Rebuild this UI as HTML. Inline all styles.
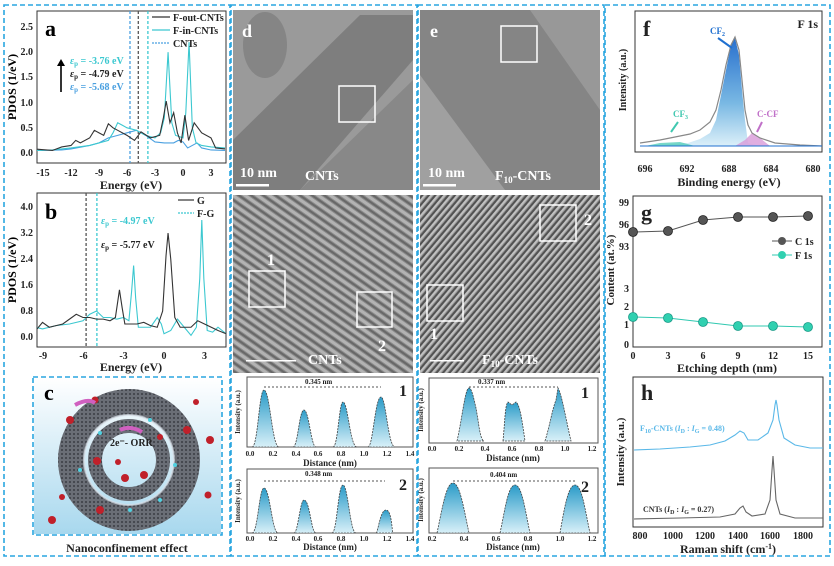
<!DOCTYPE html>
<html><head><meta charset="utf-8"><style>
html,body{margin:0;padding:0;background:#fff}
svg{display:block;font-family:"Liberation Serif",serif;font-weight:bold}
.t{font-size:10px;fill:#222}
.ln{fill:none;vector-effect:non-scaling-stroke;stroke-width:1.1}
</style></head><body>
<svg width="834" height="566" viewBox="0 0 834 566" xmlns="http://www.w3.org/2000/svg">
<defs>
<linearGradient id="pk" x1="0" y1="0" x2="0" y2="1"><stop offset="0" stop-color="#2a9bc8"/><stop offset="1" stop-color="#d8f0f8"/></linearGradient>
<linearGradient id="fpk" x1="0" y1="0" x2="0" y2="1"><stop offset="0" stop-color="#1060c8"/><stop offset="0.6" stop-color="#6ab0e0"/><stop offset="1" stop-color="#d8eef8"/></linearGradient>
<linearGradient id="cbg" x1="0" y1="0" x2="0" y2="1"><stop offset="0" stop-color="#ffffff"/><stop offset="1" stop-color="#a8d8ee"/></linearGradient>
<pattern id="hd" width="7" height="7" patternUnits="userSpaceOnUse" patternTransform="rotate(-55)"><rect width="7" height="7" fill="#8a8a8a"/><rect width="3" height="7" fill="#c8c8c8"/><rect x="4" width="2" height="7" fill="#555"/></pattern>
<pattern id="he" width="5" height="5" patternUnits="userSpaceOnUse" patternTransform="rotate(40)"><rect width="5" height="5" fill="#9a9a9a"/><rect width="2" height="5" fill="#d8d8d8"/><rect x="3" width="2" height="5" fill="#3a3a3a"/></pattern>
<pattern id="ring" width="4" height="4" patternUnits="userSpaceOnUse"><rect width="4" height="4" fill="#6a6e76"/><circle cx="2" cy="2" r="1" fill="#3a3d43"/></pattern>
</defs>

<g fill="none" stroke="#2aa6e0" stroke-width="1.6" stroke-dasharray="5,3">
<rect x="4" y="5" width="226" height="551"/>
<rect x="231" y="5" width="186" height="551"/>
<rect x="418" y="5" width="186" height="551"/>
<rect x="605" y="5" width="225" height="551"/>
<rect x="33" y="377" width="189" height="158"/>
</g>

<!-- ===== Panel a ===== -->
<rect x="37" y="11" width="189" height="152" fill="none" stroke="#333"/>
<g class="t" text-anchor="end">
<text x="33" y="156">0.0</text><text x="33" y="131">0.5</text><text x="33" y="106">1.0</text><text x="33" y="80">1.5</text><text x="33" y="55">2.0</text><text x="33" y="30">2.5</text>
</g>
<g class="t" text-anchor="middle">
<text x="43" y="176">-15</text><text x="71" y="176">-12</text><text x="99" y="176">-9</text><text x="127" y="176">-6</text><text x="155" y="176">-3</text><text x="183" y="176">0</text><text x="211" y="176">3</text>
<text x="131" y="189" style="font-size:12px">Energy (eV)</text>
</g>
<text transform="translate(16,87) rotate(-90)" text-anchor="middle" style="font-size:12px">PDOS (1/eV)</text>
<text x="45" y="36" style="font-size:22px">a</text>
<svg x="37" y="11" width="189" height="152" viewBox="37 11 189 152" overflow="hidden">
<g stroke-dasharray="3,2" stroke-width="1.3"><line x1="130" y1="11" x2="130" y2="163" stroke="#4aa0e0"/><line x1="138.3" y1="11" x2="138.3" y2="163" stroke="#555"/><line x1="147.9" y1="11" x2="147.9" y2="163" stroke="#3cc8d0"/></g>
<g transform="translate(183,153) scale(9.33,-50.4)">
<polyline class="ln" stroke="#4aa0e0" points="-16,0.05 -13,0.06 -12,0.08 -10,0.15 -9,0.2 -8,0.3 -7,0.35 -6,0.4 -5,0.45 -4,0.35 -3,0.22 -2,0.2 -1,0.2 -0.5,0.25 0,0.22 0.5,0.1 1,0.15 1.5,0.2 2,0.1 3,0.06 4.5,0.05"/>
<polyline class="ln" stroke="#3cc8d0" points="-16,0.05 -14,0.06 -12,0.1 -10,0.15 -9,0.2 -8,0.25 -7.5,0.4 -7,0.6 -6.5,0.55 -6,0.5 -5,0.45 -4,0.35 -3,0.3 -2.4,0.4 -2,0.7 -1.6,2.0 -1.2,0.6 -0.8,0.35 0,0.3 0.3,0.8 0.65,2.2 1,0.5 1.4,0.2 2,0.15 3,0.12 4.5,0.1"/>
<polyline class="ln" stroke="#333" points="-16,0.08 -14,0.05 -13,0.12 -12,0.15 -11.5,0.25 -11,0.2 -10,0.3 -9.5,0.45 -9,0.4 -8.5,0.35 -8,0.58 -7.5,0.5 -7,0.45 -6,0.35 -5.2,0.25 -4.5,0.42 -3.5,0.3 -2.5,0.35 -2.1,0.7 -1.8,1.03 -1.4,0.6 -1,0.8 -0.6,0.4 -0.2,0.2 0.2,0.75 0.6,0.25 1.2,0.6 2,0.4 3,0.3 3.5,0.1 4.5,0.08"/>
</g>
</svg>
<g style="font-size:10px">
<line x1="152" y1="17" x2="170" y2="17" stroke="#333" stroke-width="1.2"/><text x="173" y="21" class="t">F-out-CNTs</text>
<line x1="152" y1="30" x2="170" y2="30" stroke="#3cc8d0" stroke-width="1.2"/><text x="173" y="34" class="t">F-in-CNTs</text>
<line x1="152" y1="43" x2="170" y2="43" stroke="#4aa0e0" stroke-width="1.2" stroke-dasharray="2,1"/><text x="173" y="47" class="t">CNTs</text>
</g>
<line x1="61" y1="92" x2="61" y2="66" stroke="#000" stroke-width="1.6"/><polygon points="57,66 65,66 61,59" fill="#000"/>
<g style="font-size:10px">
<text x="70" y="64" fill="#3cc8d0"><tspan font-style="italic">ε</tspan><tspan font-size="7" dy="2">p</tspan><tspan dy="-2"> = -3.76 eV</tspan></text>
<text x="70" y="77" fill="#222"><tspan font-style="italic">ε</tspan><tspan font-size="7" dy="2">p</tspan><tspan dy="-2"> = -4.79 eV</tspan></text>
<text x="70" y="90" fill="#4aa0e0"><tspan font-style="italic">ε</tspan><tspan font-size="7" dy="2">p</tspan><tspan dy="-2"> = -5.68 eV</tspan></text>
</g>

<!-- ===== Panel b ===== -->
<rect x="37" y="193" width="189" height="154" fill="none" stroke="#333"/>
<g class="t" text-anchor="end">
<text x="33" y="340">0.0</text><text x="33" y="314">0.8</text><text x="33" y="288">1.6</text><text x="33" y="262">2.4</text><text x="33" y="236">3.2</text><text x="33" y="210">4.0</text>
</g>
<g class="t" text-anchor="middle">
<text x="43" y="359">-9</text><text x="83.5" y="359">-6</text><text x="123.5" y="359">-3</text><text x="164" y="359">0</text><text x="204.5" y="359">3</text>
<text x="131" y="371" style="font-size:12px">Energy (eV)</text>
</g>
<text transform="translate(16,270) rotate(-90)" text-anchor="middle" style="font-size:12px">PDOS (1/eV)</text>
<text x="45" y="219" style="font-size:22px">b</text>
<svg x="37" y="193" width="189" height="154" viewBox="37 193 189 154" overflow="hidden">
<g stroke-dasharray="3,2" stroke-width="1.3"><line x1="86.1" y1="193" x2="86.1" y2="347" stroke="#555"/><line x1="96.9" y1="193" x2="96.9" y2="347" stroke="#3cc8d0"/></g>
<g transform="translate(164,337) scale(13.5,-32.5)">
<polyline class="ln" stroke="#3cc8d0" points="-9.5,0.3 -9,0.25 -8,0.35 -7,0.4 -6,0.5 -5.5,0.7 -5,0.8 -4.5,0.6 -4,0.6 -3.5,0.55 -3,0.6 -2.6,0.5 -2.4,1.4 -2.25,2.2 -2.1,1.2 -1.9,0.3 -1.5,0.3 -1,0.3 -0.5,0.6 -0.2,0.4 0,0.1 0.5,0.2 1,0.55 1.5,0.3 2,0.05 2.4,0.3 2.65,1.8 2.8,3.6 2.95,1.8 3.2,0.2 3.6,0.15 4,0.3 4.6,0.1"/>
<polyline class="ln" stroke="#333" points="-9.5,0.2 -9,0.45 -8.5,0.3 -8,0.35 -7.5,0.4 -7,0.55 -6.5,0.7 -6,0.6 -5.5,0.6 -5,0.55 -4.5,0.55 -4,0.5 -3.6,0.6 -3.3,1.45 -3.1,0.9 -2.9,0.4 -2,0.4 -1.5,0.45 -1,0.35 -0.5,0.3 -0.1,0.8 0.15,2.5 0.3,3.2 0.5,2.4 0.8,0.6 1.2,0.3 2,0.3 2.5,0.5 3,0.4 3.5,0.3 4,0.2 4.6,0.1"/>
</g>
</svg>
<line x1="178" y1="200" x2="194" y2="200" stroke="#333" stroke-width="1.2"/><text x="197" y="204" class="t">G</text>
<line x1="178" y1="213" x2="194" y2="213" stroke="#3cc8d0" stroke-width="1.2" stroke-dasharray="2,1"/><text x="197" y="217" class="t">F-G</text>
<g style="font-size:10px">
<text x="101" y="224" fill="#3cc8d0"><tspan font-style="italic">ε</tspan><tspan font-size="7" dy="2">p</tspan><tspan dy="-2"> = -4.97 eV</tspan></text>
<text x="101" y="248" fill="#222"><tspan font-style="italic">ε</tspan><tspan font-size="7" dy="2">p</tspan><tspan dy="-2"> = -5.77 eV</tspan></text>
</g>

<!-- ===== Panel c ===== -->
<rect x="34" y="378" width="187" height="156" fill="url(#cbg)"/>
<circle cx="129" cy="460" r="58" fill="none" stroke="url(#ring)" stroke-width="26"/>
<circle cx="129" cy="460" r="34" fill="none" stroke="url(#ring)" stroke-width="14"/>
<circle cx="129" cy="460" r="45" fill="none" stroke="#d8e0e8" stroke-width="2" opacity="0.7"/>
<g fill="#c0202a">
<circle cx="70" cy="420" r="4"/><circle cx="95" cy="400" r="3.5"/><circle cx="187" cy="430" r="4"/><circle cx="210" cy="440" r="4"/><circle cx="208" cy="495" r="3.5"/><circle cx="52" cy="520" r="4"/><circle cx="100" cy="510" r="4"/><circle cx="125" cy="478" r="4"/><circle cx="144" cy="475" r="4"/><circle cx="97" cy="461" r="4"/><circle cx="118" cy="462" r="3"/><circle cx="196" cy="402" r="3"/><circle cx="62" cy="497" r="3"/><circle cx="160" cy="437" r="3"/>
</g>
<g fill="#4fd0e0"><circle cx="100" cy="433" r="2"/><circle cx="160" cy="500" r="2"/><circle cx="80" cy="470" r="2"/><circle cx="175" cy="465" r="2"/><circle cx="130" cy="510" r="2"/><circle cx="150" cy="420" r="2"/></g>
<path d="M75 405 Q88 398 95 403" stroke="#d060c0" stroke-width="4" fill="none"/>
<path d="M120 430 Q130 425 142 432" stroke="#d060c0" stroke-width="4" fill="none"/>
<text x="110" y="446" style="font-size:10px" fill="#222">2e⁻- ORR</text>
<text x="44" y="400" style="font-size:22px">c</text>
<text x="127" y="552" text-anchor="middle" style="font-size:12px" fill="#222">Nanoconfinement effect</text>

<!-- ===== Panel d images ===== -->
<rect x="233" y="10" width="180" height="180" fill="#9a9a9a"/>
<polygon points="233,180 233,140 360,15 413,15 413,60 300,190 233,190" fill="#7e7e7e"/>
<polygon points="300,190 413,80 413,190" fill="#888"/>
<ellipse cx="265" cy="45" rx="22" ry="33" fill="#858585"/>
<rect x="339" y="86" width="36" height="36" fill="none" stroke="#fff" stroke-width="1.5"/>
<text x="242" y="37" style="font-size:18px" fill="#fff">d</text>
<text x="240" y="177" style="font-size:14px" fill="#fff">10 nm</text>
<rect x="236" y="184" width="33" height="2.5" fill="#fff"/>
<text x="305" y="180" style="font-size:14px" fill="#fff">CNTs</text>

<rect x="233" y="195" width="180" height="178" fill="url(#hd)"/>
<rect x="233" y="195" width="180" height="178" fill="#8c8c8c" opacity="0.35"/>
<rect x="249" y="271" width="36" height="36" fill="none" stroke="#fff" stroke-width="1.5"/>
<rect x="357" y="292" width="35" height="35" fill="none" stroke="#fff" stroke-width="1.5"/>
<text x="267" y="265" style="font-size:16px" fill="#fff">1</text>
<text x="378" y="351" style="font-size:16px" fill="#fff">2</text>
<rect x="246" y="360" width="50" height="1.5" fill="#fff"/>
<text x="308" y="364" style="font-size:14px" fill="#fff">CNTs</text>

<g>
<rect x="247" y="377" width="166" height="70" fill="none" stroke="#555"/>
<g fill="url(#pk)" stroke="#444" stroke-dasharray="2,1" stroke-width="0.8">
<path d="M252 447 C258 447 259 390 264 390 C270 390 272 447 279 447Z"/>
<path d="M293 447 C298 447 299 410 304 410 C309 410 311 447 316 447Z"/>
<path d="M333 447 C338 447 339 402 343 402 C348 402 350 447 357 447Z"/>
<path d="M368 447 C373 447 375 397 381 397 C386 397 388 447 395 447Z"/>
</g>
<line x1="264" y1="387" x2="381" y2="387" stroke="#555" stroke-dasharray="2,2"/>
<text x="305" y="384" style="font-size:7px" fill="#222">0.345 nm</text>
<text x="403" y="396" style="font-size:16px" fill="#222" text-anchor="middle">1</text>
<text transform="translate(240,412) rotate(-90)" text-anchor="middle" style="font-size:7px" fill="#222">Intensity (a.u.)</text>
<g style="font-size:7px" fill="#222" text-anchor="middle"><text x="250" y="456">0.0</text><text x="273" y="456">0.2</text><text x="296" y="456">0.4</text><text x="318" y="456">0.6</text><text x="341" y="456">0.8</text><text x="364" y="456">1.0</text><text x="387" y="456">1.2</text><text x="410" y="456">1.4</text></g>
<text x="330" y="466" text-anchor="middle" style="font-size:9px" fill="#222">Distance (nm)</text>

<rect x="247" y="469" width="166" height="64" fill="none" stroke="#555"/>
<g fill="url(#pk)" stroke="#444" stroke-dasharray="2,1" stroke-width="0.8">
<path d="M252 533 C258 533 259 488 264 488 C270 488 272 533 278 533Z"/>
<path d="M294 533 C298 533 300 500 304 500 C310 500 311 533 316 533Z"/>
<path d="M332 533 C337 533 338 485 343 485 C348 485 350 533 356 533Z"/>
<path d="M376 533 C378 533 380 510 386 510 C392 510 392 533 393 533Z"/>
</g>
<line x1="264" y1="481" x2="385" y2="481" stroke="#555" stroke-dasharray="2,2"/>
<text x="305" y="476" style="font-size:7px" fill="#222">0.348 nm</text>
<text x="403" y="490" style="font-size:16px" fill="#222" text-anchor="middle">2</text>
<text transform="translate(240,501) rotate(-90)" text-anchor="middle" style="font-size:7px" fill="#222">Intensity (a.u.)</text>
<g style="font-size:7px" fill="#222" text-anchor="middle"><text x="250" y="541">0.0</text><text x="273" y="541">0.2</text><text x="296" y="541">0.4</text><text x="318" y="541">0.6</text><text x="341" y="541">0.8</text><text x="364" y="541">1.0</text><text x="387" y="541">1.2</text><text x="410" y="541">1.4</text></g>
<text x="330" y="550" text-anchor="middle" style="font-size:9px" fill="#222">Distance (nm)</text>
</g>

<!-- ===== Panel e images ===== -->
<rect x="420" y="10" width="180" height="180" fill="#858585"/>
<polygon points="420,75 420,190 505,190" fill="#a0a0a0"/>
<polygon points="530,10 600,10 600,110" fill="#989898"/>
<rect x="501" y="26" width="36" height="36" fill="none" stroke="#fff" stroke-width="1.5"/>
<text x="430" y="37" style="font-size:18px" fill="#fff">e</text>
<text x="428" y="177" style="font-size:14px" fill="#fff">10 nm</text>
<rect x="423" y="184" width="33" height="2.5" fill="#fff"/>
<text x="495" y="180" style="font-size:14px" fill="#fff">F<tspan font-size="9" dy="3">10</tspan><tspan dy="-3">-CNTs</tspan></text>

<rect x="420" y="195" width="180" height="178" fill="url(#he)"/>
<rect x="420" y="195" width="180" height="178" fill="#8c8c8c" opacity="0.3"/>
<rect x="540" y="205" width="36" height="36" fill="none" stroke="#fff" stroke-width="1.5"/>
<rect x="427" y="285" width="36" height="36" fill="none" stroke="#fff" stroke-width="1.5"/>
<text x="584" y="225" style="font-size:16px" fill="#fff">2</text>
<text x="430" y="339" style="font-size:16px" fill="#fff">1</text>
<rect x="430" y="360" width="34" height="1.5" fill="#fff"/>
<text x="482" y="364" style="font-size:14px" fill="#fff">F<tspan font-size="9" dy="3">10</tspan><tspan dy="-3">-CNTs</tspan></text>

<rect x="429" y="378" width="169" height="65" fill="none" stroke="#555"/>
<g fill="url(#pk)" stroke="#444" stroke-dasharray="2,1" stroke-width="0.8">
<path d="M457 441 C462 420 465 388 469 388 C472 388 474 400 476 408 L478 420 C480 435 482 441 484 441Z"/>
<path d="M503 441 C505 420 505 405 508 402 L512 405 L516 402 C520 405 522 420 525 441Z"/>
<path d="M545 441 C550 425 552 410 556 400 L558 388 C562 395 566 420 571 441Z"/>
</g>
<line x1="469" y1="387" x2="558" y2="387" stroke="#555" stroke-dasharray="2,2"/>
<text x="478" y="384" style="font-size:7px" fill="#222">0.337 nm</text>
<text x="585" y="398" style="font-size:16px" fill="#222" text-anchor="middle">1</text>
<text transform="translate(423,410) rotate(-90)" text-anchor="middle" style="font-size:7px" fill="#222">Intensity (a.u.)</text>
<g style="font-size:7px" fill="#222" text-anchor="middle"><text x="432" y="451">0.0</text><text x="459" y="451">0.2</text><text x="485" y="451">0.4</text><text x="512" y="451">0.6</text><text x="539" y="451">0.8</text><text x="565" y="451">1.0</text><text x="592" y="451">1.2</text></g>
<text x="513" y="461" text-anchor="middle" style="font-size:9px" fill="#222">Distance (nm)</text>

<rect x="429" y="468" width="169" height="65" fill="none" stroke="#555"/>
<g fill="url(#pk)" stroke="#444" stroke-dasharray="2,1" stroke-width="0.8">
<path d="M437 533 C442 510 446 483 453 483 C460 483 464 510 469 533Z"/>
<path d="M500 533 C505 510 508 485 515 485 C522 485 525 510 530 533Z"/>
<path d="M560 533 C564 510 568 485 575 485 C582 485 585 510 590 533Z"/>
</g>
<line x1="453" y1="481" x2="575" y2="481" stroke="#555" stroke-dasharray="2,2"/>
<text x="490" y="477" style="font-size:7px" fill="#222">0.404 nm</text>
<text x="585" y="492" style="font-size:16px" fill="#222" text-anchor="middle">2</text>
<text transform="translate(423,500) rotate(-90)" text-anchor="middle" style="font-size:7px" fill="#222">Intensity (a.u.)</text>
<g style="font-size:7px" fill="#222" text-anchor="middle"><text x="432" y="541">0.2</text><text x="464" y="541">0.4</text><text x="496" y="541">0.6</text><text x="528" y="541">0.8</text><text x="560" y="541">1.0</text><text x="592" y="541">1.2</text></g>
<text x="513" y="550" text-anchor="middle" style="font-size:9px" fill="#222">Distance (nm)</text>

<!-- ===== Panel f ===== -->
<rect x="635" y="11" width="187" height="141" fill="none" stroke="#333"/>
<svg x="635" y="11" width="187" height="141" viewBox="635 11 187 141" overflow="hidden">
<path d="M640 146 L688 143 L700 139 L710 133 L716 120 L721 95 L726 70 L731 45 L735 38 L739 55 L742 90 L745 120 L748 143 L760 146Z" fill="url(#fpk)" opacity="0.9"/>
<path d="M735 146 L745 140 L752 133 L760 138 L770 146Z" fill="#d89ad8" opacity="0.8"/>
<path d="M645 146 L660 143 L680 142 L695 146Z" fill="#40c8b0" opacity="0.7"/>
<polyline fill="none" stroke="#888" stroke-width="1.2" points="640,143 660,140 675,137 690,134 700,130 710,122 716,110 721,90 726,65 731,45 735,37 739,50 742,80 745,110 748,125 752,133 760,138 775,143 800,145 822,146"/>
<line x1="640" y1="146" x2="822" y2="146" stroke="#2070d0" stroke-width="1"/>
</svg>
<g class="t" text-anchor="middle">
<text x="645" y="172">696</text><text x="687" y="172">692</text><text x="729" y="172">688</text><text x="771" y="172">684</text><text x="813" y="172">680</text>
<text x="729" y="186" style="font-size:12px">Binding energy (eV)</text>
</g>
<text transform="translate(626,80) rotate(-90)" text-anchor="middle" style="font-size:10px" fill="#222">Intensity (a.u.)</text>
<text x="643" y="36" style="font-size:22px" fill="#222">f</text>
<text x="818" y="28" text-anchor="end" style="font-size:12px" fill="#222">F 1s</text>
<text x="710" y="34" style="font-size:9px" fill="#2070d0">CF<tspan font-size="6" dy="2">2</tspan></text>
<path d="M718 38 L732 48" stroke="#2070d0" stroke-width="2"/>
<text x="673" y="117" style="font-size:9px" fill="#40c8b0">CF<tspan font-size="6" dy="2">3</tspan></text>
<path d="M678 122 L671 132" stroke="#40c8b0" stroke-width="2"/>
<text x="757" y="117" style="font-size:9px" fill="#c070c8">C-CF</text>
<path d="M762 122 L757 132" stroke="#c070c8" stroke-width="2"/>

<!-- ===== Panel g ===== -->
<rect x="633" y="196" width="189" height="151" fill="none" stroke="#333"/>
<g class="t" text-anchor="end"><text x="629" y="206">99</text><text x="629" y="228">96</text><text x="629" y="250">93</text><text x="629" y="292">3</text><text x="629" y="310">2</text><text x="629" y="328">1</text><text x="629" y="348">0</text></g>
<g class="t" text-anchor="middle"><text x="633" y="359">0</text><text x="668" y="359">3</text><text x="703" y="359">6</text><text x="738" y="359">9</text><text x="773" y="359">12</text><text x="808" y="359">15</text>
<text x="727" y="372" style="font-size:12px">Etching depth (nm)</text></g>
<text transform="translate(614,270) rotate(-90)" text-anchor="middle" style="font-size:11px" fill="#222">Content (at.%)</text>
<text x="641" y="220" style="font-size:22px" fill="#222">g</text>
<polyline fill="none" stroke="#555" stroke-width="1" points="633,232 668,231 703,220 738,217 773,217 808,216"/>
<g fill="#555" stroke="#222" stroke-width="0.8"><circle cx="633" cy="232" r="4.5"/><circle cx="668" cy="231" r="4.5"/><circle cx="703" cy="220" r="4.5"/><circle cx="738" cy="217" r="4.5"/><circle cx="773" cy="217" r="4.5"/><circle cx="808" cy="216" r="4.5"/></g>
<polyline fill="none" stroke="#30c8b0" stroke-width="1" points="633,317 668,318 703,322 738,326 773,326 808,327"/>
<g fill="#30d0b0" stroke="#1a9a88" stroke-width="0.8"><circle cx="633" cy="317" r="4.5"/><circle cx="668" cy="318" r="4.5"/><circle cx="703" cy="322" r="4.5"/><circle cx="738" cy="326" r="4.5"/><circle cx="773" cy="326" r="4.5"/><circle cx="808" cy="327" r="4.5"/></g>
<line x1="772" y1="241" x2="792" y2="241" stroke="#555"/><circle cx="782" cy="241" r="4" fill="#555"/><text x="795" y="245" class="t">C 1s</text>
<line x1="772" y1="255" x2="792" y2="255" stroke="#30c8b0"/><circle cx="782" cy="255" r="4" fill="#30d0b0"/><text x="795" y="259" class="t">F 1s</text>

<!-- ===== Panel h ===== -->
<rect x="633" y="377" width="190" height="150" fill="none" stroke="#333"/>
<polyline fill="none" stroke="#5ab8e8" stroke-width="1.1" points="634,450 660,449 690,447 710,445 725,441 735,435 740,431 744,433 748,440 758,440 768,433 773,420 775,405 776,400 777,405 779,420 784,438 795,445 810,448 823,448"/>
<polyline fill="none" stroke="#666" stroke-width="1.1" points="634,519 680,518 720,517 735,514 740,508 743,506 746,512 752,516 765,514 770,500 772,470 773,456 774,470 776,500 780,514 795,518 823,518"/>
<text x="640" y="431" style="font-size:8px" fill="#5ab8e8">F<tspan font-size="6" dy="2">10</tspan><tspan dy="-2">-CNTs (</tspan><tspan font-style="italic">I</tspan><tspan font-size="6" dy="2">D</tspan><tspan dy="-2"> : </tspan><tspan font-style="italic">I</tspan><tspan font-size="6" dy="2">G</tspan><tspan dy="-2"> = 0.48)</tspan></text>
<text x="643" y="512" style="font-size:8px" fill="#333">CNTs (<tspan font-style="italic">I</tspan><tspan font-size="6" dy="2">D</tspan><tspan dy="-2"> : </tspan><tspan font-style="italic">I</tspan><tspan font-size="6" dy="2">G</tspan><tspan dy="-2"> = 0.27)</tspan></text>
<g class="t" text-anchor="middle"><text x="640" y="539">800</text><text x="673" y="539">1000</text><text x="705" y="539">1200</text><text x="738" y="539">1400</text><text x="770" y="539">1600</text><text x="803" y="539">1800</text>
<text x="728" y="553" style="font-size:12px">Raman shift (cm<tspan font-size="8" dy="-4">-1</tspan><tspan dy="4">)</tspan></text></g>
<text transform="translate(624,452) rotate(-90)" text-anchor="middle" style="font-size:11px" fill="#222">Intensity (a.u.)</text>
<text x="641" y="400" style="font-size:22px" fill="#222">h</text>
</svg>
</body></html>
